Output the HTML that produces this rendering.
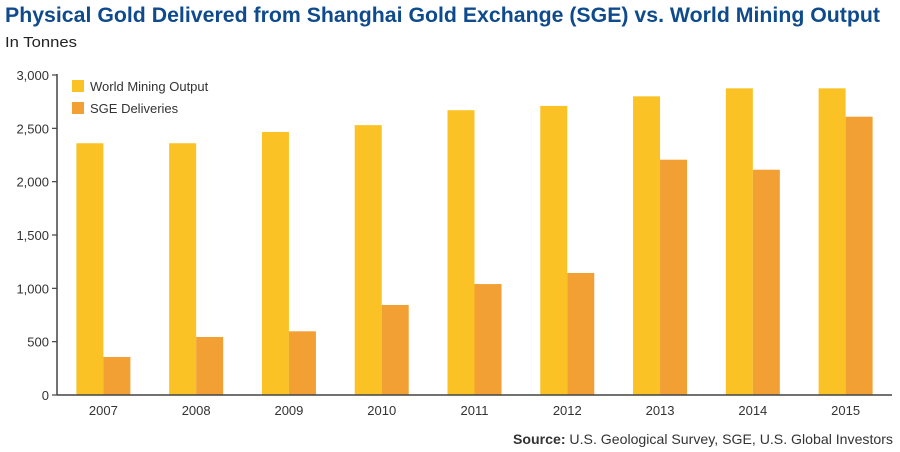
<!DOCTYPE html>
<html><head><meta charset="utf-8"><style>
html,body{margin:0;padding:0;background:#fff;width:900px;height:452px;overflow:hidden}
svg{display:block;font-family:"Liberation Sans",sans-serif}
</style></head><body>
<svg id="chart" width="900" height="452" viewBox="0 0 900 452">
  <text x="5" y="22" font-size="21" font-weight="bold" fill="#0f4b8c" textLength="875" lengthAdjust="spacingAndGlyphs">Physical Gold Delivered from Shanghai Gold Exchange (SGE) vs. World Mining Output</text>
  <text x="5" y="47" font-size="15" fill="#222" textLength="72" lengthAdjust="spacingAndGlyphs">In Tonnes</text>
  <g id="bars"></g>
  <g id="yticks"></g>
  <g id="xticks"></g>
  <g>
    <rect x="72" y="80" width="12" height="12" fill="#fbc225"/>
    <text x="90" y="91" font-size="13" fill="#333">World Mining Output</text>
    <rect x="72" y="102" width="12" height="12" fill="#f29f33"/>
    <text x="90" y="113" font-size="13" fill="#333">SGE Deliveries</text>
  </g>
  <text x="513" y="444" font-size="14" fill="#333" textLength="380" lengthAdjust="spacingAndGlyphs"><tspan font-weight="bold">Source:</tspan> U.S. Geological Survey, SGE, U.S. Global Investors</text>
</svg>
<script>
const categories = ["2007","2008","2009","2010","2011","2012","2013","2014","2015"];
const miningOutput = [2360, 2360, 2466, 2530, 2670, 2710, 2800, 2875, 2875];
const sgeDeliveries = [356, 544, 597, 844, 1040, 1144, 2206, 2112, 2609];
const yTickValues = [0, 500, 1000, 1500, 2000, 2500, 3000];
const yTickLabels = ["0","500","1,000","1,500","2,000","2,500","3,000"];

const NS = "http://www.w3.org/2000/svg";
const x0 = 57, x1 = 892, y0 = 395, yTop = 75, yMax = 3000;
const band = (x1 - x0) / categories.length;
const barW = 27;
function yScale(v){ return y0 - (v / yMax) * (y0 - yTop); }
function xCenter(i){ return x0 + band * (i + 0.5); }
function mk(tag, attrs){ const e = document.createElementNS(NS, tag); for (const k in attrs) e.setAttribute(k, attrs[k]); return e; }

const bars = document.getElementById('bars');
categories.forEach((c, i) => {
  const cx = xCenter(i);
  const r1 = mk('rect', {x: cx - barW, y: yScale(miningOutput[i]), width: barW, height: y0 - yScale(miningOutput[i]), fill: '#fbc225'});
  
  
  bars.appendChild(r1);
  const r2 = mk('rect', {x: cx, y: yScale(sgeDeliveries[i]), width: barW, height: y0 - yScale(sgeDeliveries[i]), fill: '#f29f33'});
  
  
  bars.appendChild(r2);
});

const yt = document.getElementById('yticks');
const yAxis = mk('line', {x1: x0, y1: yTop - 1, x2: x0, y2: y0, stroke: '#444', 'stroke-width': 1.5});


yt.appendChild(yAxis);
yTickValues.forEach((v, i) => {
  const y = yScale(v);
  const tk = mk('line', {x1: x0 - 5, y1: y, x2: x0, y2: y, stroke: '#444', 'stroke-width': 1.2});
  
  
  yt.appendChild(tk);
  const t = mk('text', {x: x0 - 8, y: y + 5, 'font-size': 13, fill: '#333', 'text-anchor': 'end'});
  t.textContent = yTickLabels[i];
  
  
  yt.appendChild(t);
});

const xt = document.getElementById('xticks');
const xAxis = mk('line', {x1: x0, y1: y0, x2: x1, y2: y0, stroke: '#444', 'stroke-width': 1.5});


xt.appendChild(xAxis);
categories.forEach((c, i) => {
  const t = mk('text', {x: xCenter(i), y: y0 + 20, 'font-size': 13, fill: '#333', 'text-anchor': 'middle'});
  t.textContent = c;
  
  
  xt.appendChild(t);
});
</script>
</body></html>
